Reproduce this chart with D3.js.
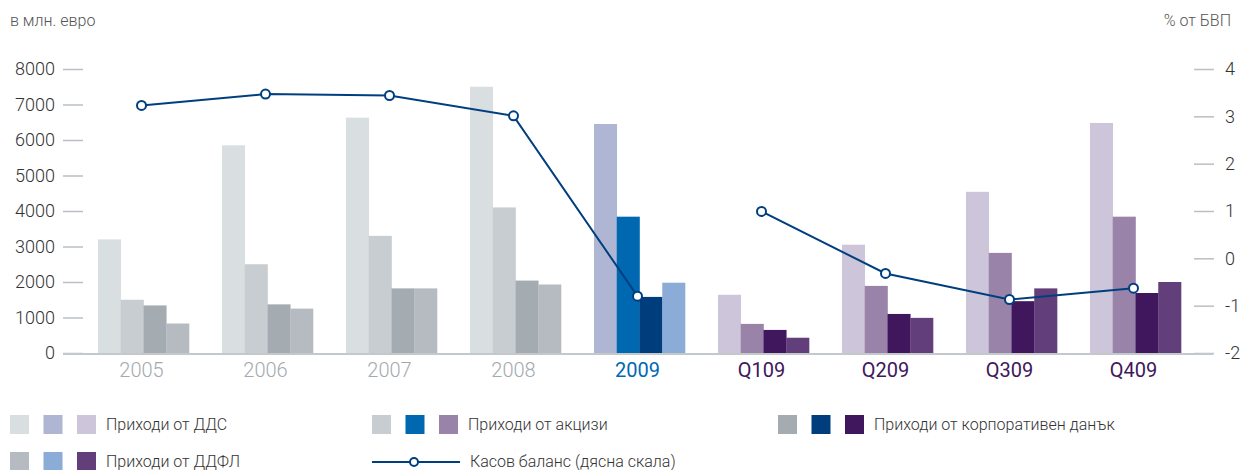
<!DOCTYPE html>
<meta charset="utf-8">
<style>
  body { margin: 0; background: #fff; }
  svg text { font-family: Roboto, "Noto Sans", sans-serif; }
</style>
<script src="https://cdnjs.cloudflare.com/ajax/libs/d3/7.8.5/d3.min.js"></script>
<body>
<script>

// periods on the x axis
var categories = ["2005", "2006", "2007", "2008", "2009", "Q109", "Q209", "Q309", "Q409"];
var periodType = ["year", "year", "year", "year", "y2009", "quarter", "quarter", "quarter", "quarter"];

// revenues, mln euro
var vat       = [3200, 5850, 6630, 7500, 6450, 1640, 3050, 4540, 6480];
var excise    = [1500, 2500, 3300, 4100, 3840,  820, 1890, 2820, 3840];
var corporate = [1340, 1370, 1820, 2040, 1580,  650, 1100, 1460, 1690];
var pit       = [ 830, 1250, 1820, 1930, 1980,  430,  990, 1820, 2000];

// cash balance, % of GDP (right scale); line breaks after 2009
var balance = [3.23, 3.47, 3.44, 3.01, -0.80, 0.99, -0.32, -0.87, -0.63];
var balanceSegments = [[0, 1, 2, 3, 4], [5, 6, 7, 8]];

var leftTicks = [0, 1000, 2000, 3000, 4000, 5000, 6000, 7000, 8000];
var rightTicks = [-2, -1, 0, 1, 2, 3, 4];

var seriesNames = ["Приходи от ДДС", "Приходи от акцизи", "Приходи от корпоративен данък", "Приходи от ДДФЛ"];
var series = [vat, excise, corporate, pit];

// colours: [vat, excise, corporate, pit] for each period type
var colors = {
  year:    ["#d9dee1", "#c8cdd1", "#a4abb1", "#b5bbc1"],
  y2009:   ["#aeb6d4", "#0068b1", "#003d7c", "#8aacd6"],
  quarter: ["#cdc5d9", "#9983a8", "#40175c", "#623f7a"]
};
var labelColors = { year: "#a3a9ae", y2009: "#0068b1", quarter: "#40175c" };

var width = 1241, height = 470;

var svg = d3.select("body").append("svg")
    .attr("width", width)
    .attr("height", height);

var x = d3.scaleBand()
    .domain(categories)
    .range([81.5, 1197.5])
    .paddingInner(0.266)
    .paddingOuter(0.133);

var xs = d3.scaleBand()
    .domain(d3.range(4))
    .range([0, x.bandwidth()]);

var y = d3.scaleLinear().domain([0, 8000]).range([353, 69]);
var y2 = d3.scaleLinear().domain([-2, 4]).range([353, 69]);

// left axis
var leftAxis = svg.append("g").attr("transform", "translate(83,0)")
    .call(d3.axisLeft(y).tickValues(leftTicks).tickSize(20).tickPadding(8).tickFormat(function(d) { return String(d); }));
leftAxis.select(".domain").remove();
leftAxis.selectAll(".tick line").attr("stroke", "#b9bfc4").attr("stroke-width", 1.5);
leftAxis.selectAll(".tick text").attr("fill", "#333").style("font-size", "18px").style("font-weight", 300);

// right axis
var rightAxis = svg.append("g").attr("transform", "translate(1194,0)")
    .call(d3.axisRight(y2).tickValues(rightTicks).tickSize(20).tickPadding(11).tickFormat(function(d) { return String(d); }));
rightAxis.select(".domain").remove();
rightAxis.selectAll(".tick line").attr("stroke", "#b9bfc4").attr("stroke-width", 1.5);
rightAxis.selectAll(".tick text").attr("fill", "#333").style("font-size", "18px").style("font-weight", 300);

// axis titles
svg.append("text").attr("x", 10).attr("y", 26)
    .attr("fill", "#555").style("font-size", "16px").style("font-weight", 300).text("в млн. евро");
svg.append("text").attr("x", 1231).attr("y", 26).attr("text-anchor", "end")
    .attr("fill", "#555").style("font-size", "16px").style("font-weight", 300).text("% от БВП");

// bars
var groups = svg.selectAll(".group")
    .data(categories)
    .enter().append("g")
    .attr("class", "group")
    .attr("transform", function(d) { return "translate(" + x(d) + ",0)"; });

groups.selectAll("rect")
    .data(function(d, i) {
      return series.map(function(s, k) { return { k: k, value: s[i], type: periodType[i] }; });
    })
    .enter().append("rect")
    .attr("x", function(d) { return xs(d.k); })
    .attr("width", xs.bandwidth() + 0.3)
    .attr("y", function(d) { return y(d.value); })
    .attr("height", function(d) { return y(0) - y(d.value); })
    .attr("fill", function(d) { return colors[d.type][d.k]; });

// baseline
svg.append("line")
    .attr("x1", 63).attr("x2", 1213)
    .attr("y1", y(0) + 1).attr("y2", y(0) + 1)
    .attr("stroke", "#c3c8cd").attr("stroke-width", 2);

// x labels
svg.selectAll(".xlabel")
    .data(categories)
    .enter().append("text")
    .attr("class", "xlabel")
    .attr("x", function(d) { return x(d) + x.bandwidth() / 2 - 2; })
    .attr("y", 377)
    .attr("text-anchor", "middle")
    .attr("fill", function(d, i) { return labelColors[periodType[i]]; })
    .style("font-size", "20px")
    .style("font-weight", function(d, i) { return periodType[i] === "year" ? 300 : 400; })
    .text(function(d) { return d; });

// cash balance line
var line = d3.line()
    .x(function(i) { return x(categories[i]) + x.bandwidth() / 2 - 2; })
    .y(function(i) { return y2(balance[i]); });

svg.selectAll(".balance")
    .data(balanceSegments)
    .enter().append("path")
    .attr("class", "balance")
    .attr("d", line)
    .attr("fill", "none")
    .attr("stroke", "#003f7f")
    .attr("stroke-width", 2);

svg.selectAll(".dot")
    .data(d3.range(categories.length))
    .enter().append("circle")
    .attr("class", "dot")
    .attr("cx", function(i) { return x(categories[i]) + x.bandwidth() / 2 - 2; })
    .attr("cy", function(i) { return y2(balance[i]); })
    .attr("r", 4.5)
    .attr("fill", "#fff")
    .attr("stroke", "#003f7f")
    .attr("stroke-width", 2);

// legend
var legendPos = [[10, 415], [372, 415], [778, 415], [10, 452]];
var typeOrder = ["year", "y2009", "quarter"];

legendPos.forEach(function(p, k) {
  var g = svg.append("g").attr("transform", "translate(" + p[0] + "," + p[1] + ")");
  typeOrder.forEach(function(t, j) {
    g.append("rect")
      .attr("x", j * 33.5).attr("y", 0)
      .attr("width", 19).attr("height", 19)
      .attr("fill", colors[t][k]);
  });
  g.append("text")
    .attr("x", 96).attr("y", 15)
    .attr("fill", "#333").style("font-size", "16px").style("font-weight", 300)
    .text(seriesNames[k]);
});

var lg = svg.append("g").attr("transform", "translate(372,462)");
lg.append("line").attr("x1", 0).attr("x2", 88).attr("y1", 0).attr("y2", 0)
  .attr("stroke", "#003f7f").attr("stroke-width", 2);
lg.append("circle").attr("cx", 42).attr("cy", 0).attr("r", 4)
  .attr("fill", "#fff").attr("stroke", "#003f7f").attr("stroke-width", 2);
lg.append("text").attr("x", 98).attr("y", 5)
  .attr("fill", "#333").style("font-size", "16px").style("font-weight", 300)
  .text("Касов баланс (дясна скала)");

</script>
</body>
